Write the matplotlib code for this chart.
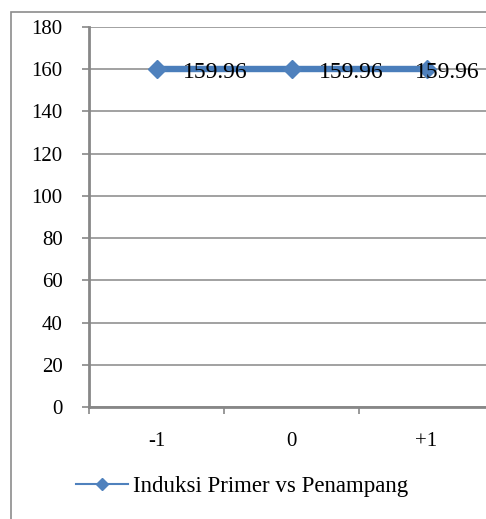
import matplotlib.pyplot as plt
from matplotlib.patches import Rectangle

plt.rcParams['font.family'] = ['Liberation Serif', 'DejaVu Serif']

# data
categories = ['-1', '0', '+1']
induksi = [159.96, 159.96, 159.96]
series_name = 'Induksi Primer vs Penampang'
y_ticks = [0, 20, 40, 60, 80, 100, 120, 140, 160, 180]

fig = plt.figure(figsize=(4.86, 5.19), dpi=100)

# outer chart border
fig.patches.append(Rectangle((11 / 486, -0.05), 1.2, 1 - 12 / 519 + 0.05,
                             transform=fig.transFigure, fill=False,
                             edgecolor='#8c8c8c', linewidth=1.2))

ax = fig.add_axes([89 / 486, 1 - 407 / 519, 405 / 486, 380 / 519])
x = list(range(len(categories)))

ax.plot(x, induksi, color='#4a7ebb', linewidth=4.6, marker='D',
        markersize=9.5, markerfacecolor='#4f81bd', markeredgecolor='#4f81bd',
        label=series_name, zorder=3)

# value labels to the right; the last one is pulled back so it stays inside
label_offsets = [(19, -2), (20, -2), (-8, -2)]
for xi, v, off in zip(x, induksi, label_offsets):
    ax.annotate(f'{v:.2f}', (xi, v), xytext=off, textcoords='offset points',
                ha='left', va='center', fontsize=17, color='black', zorder=4,
                annotation_clip=False)

ax.set_xlim(-0.5, len(categories) - 0.5)
ax.set_ylim(0, 180)
ax.set_yticks(y_ticks)
ax.yaxis.grid(True, color='#878787', linewidth=1.1)
ax.set_axisbelow(True)

# category boundaries carry the tick marks, labels sit at the centres
ax.set_xticks([i - 0.5 for i in range(len(categories) + 1)])
ax.set_xticklabels([])
ax.set_xticks(x, minor=True)
ax.set_xticklabels(categories, minor=True)
ax.tick_params(axis='x', which='major', length=5, width=1.2, color='#878787')
ax.tick_params(axis='x', which='minor', length=0, pad=18, labelsize=15)
ax.tick_params(axis='y', length=5, width=1.2, color='#878787', labelsize=15, pad=14)

for side in ['top', 'right']:
    ax.spines[side].set_visible(False)
ax.spines['left'].set_color('#878787')
ax.spines['left'].set_linewidth(2)
ax.spines['bottom'].set_color('#878787')
ax.spines['bottom'].set_linewidth(2)

# legend below the chart
leg = fig.legend(handles=[plt.Line2D([], [], color='#4f81bd', linewidth=1.5,
                                     marker='D', markersize=6)],
                 labels=[series_name], loc='center left',
                 bbox_to_anchor=(55 / 486, 1 - 486 / 519), frameon=False,
                 fontsize=16.5, handlelength=2.3, handletextpad=0.2)

fig.savefig('out.png', dpi=100)
